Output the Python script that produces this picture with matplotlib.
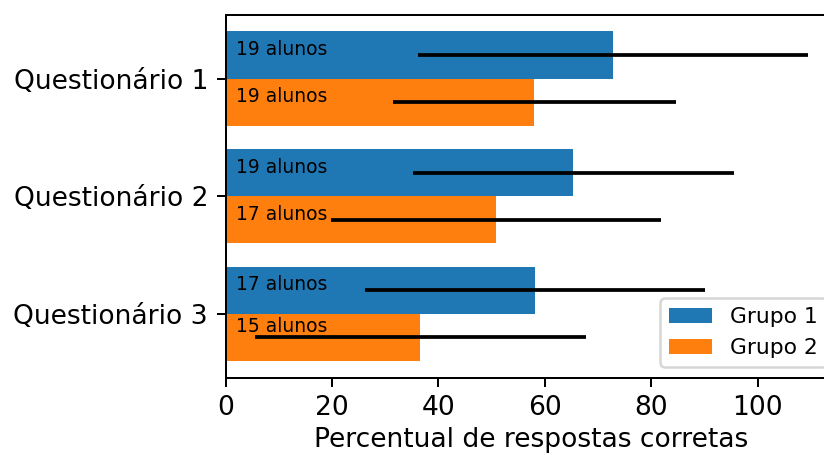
import numpy as np
import matplotlib
matplotlib.use('Agg')
import matplotlib.pyplot as plt

# dados
questionarios = ['Questionário 1', 'Questionário 2', 'Questionário 3']
grupo1 = [72.8, 65.4, 58.2]
grupo2 = [58.0, 50.9, 36.6]
erro1 = [36.7, 30.2, 31.9]
erro2 = [26.6, 31.0, 31.1]
alunos1 = [19, 19, 17]
alunos2 = [19, 17, 15]

dpi = 180
plt.rcParams['xtick.labelsize'] = 10.6
plt.rcParams['ytick.labelsize'] = 10.6
plt.rcParams['axes.labelsize'] = 10.6

fig = plt.figure(figsize=(824 / dpi, 455 / dpi), dpi=dpi)
ax = fig.add_axes([0.2, 0.2, 0.7, 0.7])

y = np.arange(len(questionarios))
h = 0.4
ax.barh(y - h / 2, grupo1, h, xerr=erro1, label='Grupo 1')
ax.barh(y + h / 2, grupo2, h, xerr=erro2, label='Grupo 2')

# o ultimo rotulo do grupo 2 fica um pouco mais alto no original
ajuste2 = [0, 0, -0.045]
for i in range(len(y)):
    ax.text(2, y[i] - h / 2, f'{alunos1[i]} alunos', fontsize=7.5, va='baseline')
    ax.text(2, y[i] + h / 2 + ajuste2[i], f'{alunos2[i]} alunos', fontsize=7.5, va='baseline')

ax.set_yticks(y)
ax.set_yticklabels(questionarios)
ax.invert_yaxis()
ax.set_xlabel('Percentual de respostas corretas', labelpad=2.5)
ax.legend(loc='lower right', fontsize=8.7)

# posiciona o eixo (a figura original esta cortada a direita)
xmax = ax.get_xlim()[1]
px = 5.32
left = 225.5 / 824
bottom = (455 - 377.5) / 455
height = (377.5 - 15) / 455
ax.set_position([left, bottom, xmax * px / 824, height])

fig.savefig('out.png', dpi=dpi)
